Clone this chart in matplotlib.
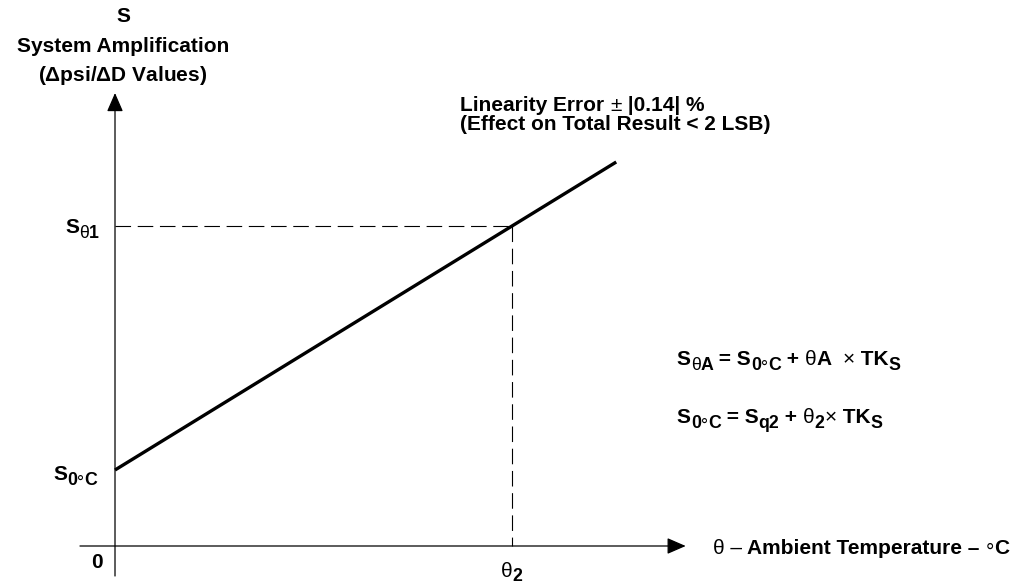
import numpy as np
import matplotlib.pyplot as plt

plt.rcParams['font.family'] = ['Liberation Sans', 'DejaVu Sans']
plt.rcParams['font.weight'] = 'bold'
plt.rcParams['mathtext.fontset'] = 'custom'
plt.rcParams['mathtext.rm'] = 'Liberation Sans:bold'
plt.rcParams['mathtext.sf'] = 'Liberation Sans'

# temperature (arbitrary units) vs system amplification
theta = [0.0, 4.0, 5.05]
amp = [0.76, 3.2, 3.84]
theta2 = theta[1]
s_theta1 = amp[1]

fs = 15
fig = plt.figure(figsize=(10.18, 5.86), dpi=100)
ax = fig.add_axes([0, 0, 1, 1])
ax.set_xlim(-1.1587, 9.098)
ax.set_ylim(-0.40, 5.46)
ax.axis('off')


def rich(x, y, runs, size=fs):
    """Draw runs of (text, baseline drop in pt, size scale, weight) one after another."""
    prev, prev_dy = None, 0
    for text, dy, scale, weight in runs:
        kw = dict(fontsize=size * scale, fontweight=weight, ha='left')
        if prev is None:
            prev = ax.text(x, y, text, va='baseline', **kw)
        else:
            prev = ax.annotate(text, xy=(1, 0), xycoords=prev, xytext=(0, prev_dy - dy),
                               textcoords='offset points', va='bottom', **kw)
        prev_dy = dy
    return prev


B, N = 'bold', 'normal'
SUB, SS = 3.5, 0.85


def deg_c(dy=SUB, scale=SS):
    return [('°', dy + 2.5 * scale, scale, N), ('C', dy, scale, B)]


arrow = dict(arrowstyle='-|>,head_length=1.15,head_width=0.5', lw=0.9,
             color='k', shrinkA=0, shrinkB=0)
ax.annotate('', xy=(0, 4.53), xytext=(0, -0.30), arrowprops=arrow)
ax.annotate('', xy=(5.75, 0), xytext=(-0.353, 0), arrowprops=arrow)

ax.plot(theta, amp, color='k', lw=2.4, solid_capstyle='butt')
ax.plot([0, theta2], [s_theta1, s_theta1], color='k', lw=0.8, dashes=(14, 6))
ax.plot([theta2, theta2], [s_theta1, 0], color='k', lw=0.8, dashes=(14, 6))

# axis titles
ax.text(0.08, 5.30, 'S', ha='center', va='center', fontsize=fs)
ax.text(0.08, 5.00, 'System Amplification', ha='center', va='center', fontsize=fs)
ax.text(0.08, 4.71, r'($\mathsf{\Delta}$psi/$\mathsf{\Delta}$D Values)',
        ha='center', va='center', fontsize=fs)
rich(6.02, -0.085, [('θ – ', 0, 1, N), ('Ambient Temperature – ', 0, 1, B)] + deg_c(0, 1))

# tick labels
ax.text(-0.18, -0.17, '0', ha='center', va='center', fontsize=fs)
rich(theta2 - 0.11, -0.31, [('θ', 0, 1, N), ('2', 3, SS, B)])
rich(-0.625, 0.66, [('S', 0, 1, B), ('0', SUB, SS, B)] + deg_c())
rich(-0.504, 3.13, [('S', 0, 1, B), ('θ', SUB, SS, N), ('1', SUB, SS, B)])

# annotations
rich(3.48, 4.35, [('Linearity Error ', 0, 1, B), ('±', 0, 1, N), (' |0.14| %', 0, 1, B)])
rich(3.48, 4.16, [('(Effect on Total Result < 2 LSB)', 0, 1, B)])
rich(5.66, 1.81, [('S', 0, 1, B), ('θ', SUB, SS, N), ('A', SUB, SS, B),
                  (' = S', 0, 1, B), ('0', SUB, SS, B)] + deg_c() +
                 [(' + ', 0, 1, B), ('θ', 0, 1, N), ('A  ', 0, 1, B), ('×', 0, 1, N),
                  (' TK', 0, 1, B), ('S', SUB, SS, B)])
rich(5.66, 1.23, [('S', 0, 1, B), ('0', SUB, SS, B)] + deg_c() +
                 [(' = S', 0, 1, B), ('q2', SUB, SS, B), (' + ', 0, 1, B),
                  ('θ', 0, 1, N), ('2', SUB, SS, B), ('×', 0, 1, N),
                  (' TK', 0, 1, B), ('S', SUB, SS, B)])

fig.savefig('out.png', dpi=100)
